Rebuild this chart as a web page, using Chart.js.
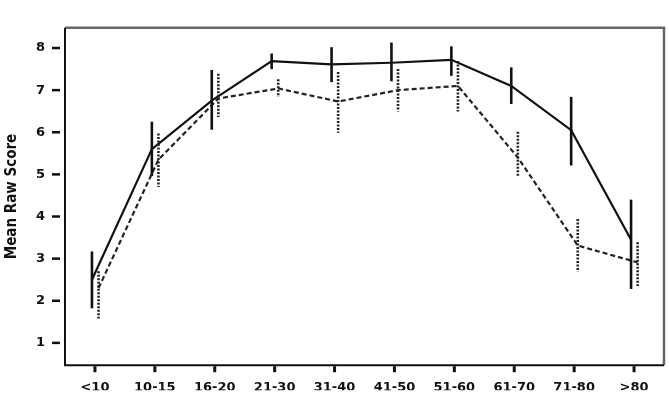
<!DOCTYPE html>
<html>
<head>
<meta charset="utf-8">
<script src="https://cdn.jsdelivr.net/npm/chart.js@4/dist/chart.umd.min.js"></script>
<style>
html,body{margin:0;padding:0;background:#fff;}
#wrap{width:669px;height:393px;}
</style>
</head>
<body>
<div id="wrap"><canvas id="c" width="669" height="393"></canvas></div>
<script>
const categories = ['<10','10-15','16-20','21-30','31-40','41-50','51-60','61-70','71-80','>80'];
const yTicks = [1,2,3,4,5,6,7,8];
const solidMean = [2.5, 5.6, 6.75, 7.69, 7.61, 7.65, 7.72, 7.1, 6.05, 3.45];
const solidLow  = [1.82, 4.96, 6.06, 7.5, 7.19, 7.21, 7.34, 6.67, 5.21, 2.28];
const solidHigh = [3.17, 6.25, 7.48, 7.87, 8.02, 8.13, 8.04, 7.54, 6.84, 4.4];
const dashedMean = [2.3, 5.35, 6.8, 7.04, 6.73, 7.0, 7.1, 5.4, 3.31, 2.91];
const dashedLow  = [1.58, 4.7, 6.36, 6.84, 5.99, 6.49, 6.49, 4.96, 2.69, 2.35];
const dashedHigh = [2.7, 5.97, 7.39, 7.26, 7.43, 7.5, 7.69, 6.01, 3.94, 3.39];

const SOLID_SHIFT = -0.05, DASHED_SHIFT = 0.06;
const pts = (arr, shift) => arr.map((v, i) => ({x: i + shift, y: v}));

const errorBars = {
  id: 'errorBars',
  afterDatasetsDraw(chart) {
    const ctx = chart.ctx, xs = chart.scales.x, ys = chart.scales.y;
    const sets = [
      {lo: solidLow, hi: solidHigh, shift: SOLID_SHIFT, dash: [], width: 2.6, color: '#111'},
      {lo: dashedLow, hi: dashedHigh, shift: DASHED_SHIFT, dash: [2, 1.5], width: 2.6, color: '#222'}
    ];
    ctx.save();
    sets.forEach(s => {
      ctx.strokeStyle = s.color; ctx.lineWidth = s.width; ctx.setLineDash(s.dash);
      s.lo.forEach((lo, i) => {
        const x = xs.getPixelForValue(i + s.shift);
        ctx.beginPath();
        ctx.moveTo(x, ys.getPixelForValue(s.hi[i]));
        ctx.lineTo(x, ys.getPixelForValue(lo));
        ctx.stroke();
      });
    });
    ctx.restore();
  }
};

const frame = {
  id: 'frame',
  afterDraw(chart) {
    const ctx = chart.ctx, a = chart.chartArea, xs = chart.scales.x, ys = chart.scales.y;
    ctx.save();
    ctx.setLineDash([]);
    ctx.strokeStyle = '#666'; ctx.lineWidth = 2.5;
    ctx.beginPath(); ctx.moveTo(a.left, a.top); ctx.lineTo(a.right, a.top); ctx.lineTo(a.right, a.bottom); ctx.stroke();
    ctx.strokeStyle = '#111'; ctx.lineWidth = 2;
    ctx.beginPath(); ctx.moveTo(a.left, a.top); ctx.lineTo(a.left, a.bottom); ctx.lineTo(a.right, a.bottom); ctx.stroke();
    ctx.lineWidth = 2.5;
    ys.ticks.forEach(t => {
      const y = ys.getPixelForValue(t.value);
      ctx.beginPath(); ctx.moveTo(a.left - 13, y); ctx.lineTo(a.left - 5, y); ctx.stroke();
    });
    ctx.lineWidth = 3;
    xs.ticks.forEach(t => {
      const x = xs.getPixelForValue(t.value);
      ctx.beginPath(); ctx.moveTo(x, a.bottom + 1); ctx.lineTo(x, a.bottom + 7); ctx.stroke();
    });
    ctx.restore();
  }
};

new Chart(document.getElementById('c'), {
  type: 'line',
  data: {
    datasets: [
      {data: pts(solidMean, SOLID_SHIFT), borderColor: '#111', borderWidth: 2.2, pointRadius: 0, tension: 0, fill: false},
      {data: pts(dashedMean, DASHED_SHIFT), borderColor: '#222', borderWidth: 2.2, borderDash: [5, 3], pointRadius: 0, tension: 0, fill: false}
    ]
  },
  options: {
    responsive: false,
    devicePixelRatio: 1,
    animation: false,
    layout: {padding: {top: 2, right: 5, bottom: 0, left: 0}},
    plugins: {legend: {display: false}, tooltip: {enabled: false}},
    scales: {
      x: {
        type: 'linear', min: -0.5, max: 9.5,
        afterBuildTicks: s => { s.ticks = categories.map((c, i) => ({value: i})); },
        afterFit: s => { s.height = 25; },
        grid: {display: false, drawTicks: false},
        border: {display: false},
        ticks: {
          autoSkip: false, maxRotation: 0, padding: 15, color: '#111',
          font: {family: 'DejaVu Sans', weight: 'bold', size: 13},
          callback: v => categories[v]
        }
      },
      y: {
        type: 'linear', min: 0.47, max: 8.48,
        afterBuildTicks: s => { s.ticks = yTicks.map(v => ({value: v})); },
        afterFit: s => { s.width = 65; },
        grid: {display: false, drawTicks: false},
        border: {display: false},
        ticks: {padding: 20, color: '#111', font: {family: 'DejaVu Sans', weight: 'bold', size: 13}},
        title: {
          display: true, text: 'Mean Raw Score', color: '#111',
          font: {family: 'DejaVu Sans Condensed', weight: 'bold', size: 15},
          padding: {top: 3, bottom: 0}
        }
      }
    }
  },
  plugins: [errorBars, frame]
});
</script>
</body>
</html>
